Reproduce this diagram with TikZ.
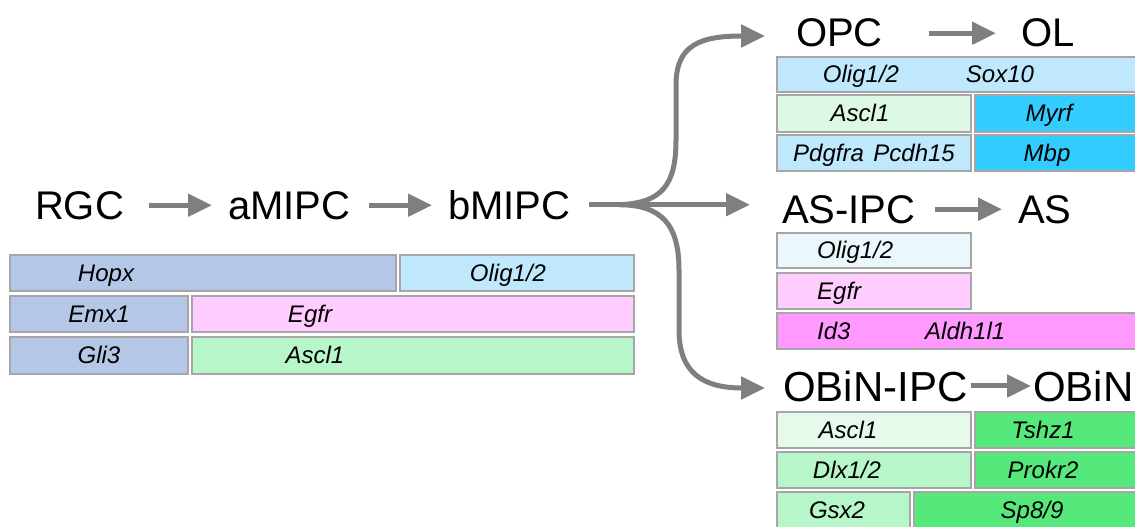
\documentclass[tikz,border=0pt]{standalone}
\usepackage{fontspec}
\setmainfont{Liberation Sans}
\usetikzlibrary{arrows.meta}

\definecolor{boxgray}{HTML}{A6A6A6}
\definecolor{arrowgray}{HTML}{7F7F7F}
\definecolor{rgcblue}{HTML}{B4C7E7}
\definecolor{oligcyan}{HTML}{BFE8FC}
\definecolor{egfrpink}{HTML}{FFCCFF}
\definecolor{asclgreen}{HTML}{B6F6C9}
\definecolor{palegreen}{HTML}{DDF8E4}
\definecolor{olcyan}{HTML}{33CCFF}
\definecolor{palecyan}{HTML}{EBF7FC}
\definecolor{asmagenta}{HTML}{FF99FF}
\definecolor{faintgreen}{HTML}{E6FAEB}
\definecolor{obingreen}{HTML}{55E87A}

% box: name, x1, y1, x2, y2, fill
\newcommand\genebox[6]{%
  \node[gbox, fill=#6, minimum width={(#4)-(#2)}, minimum height={(#5)-(#3)}] (#1) at (#2,#3) {};}

\begin{document}
\begin{tikzpicture}[x=1pt,y=-1pt,
  stage/.style={inner sep=0pt, outer sep=0pt, anchor=base west, font=\fontsize{40}{48}\selectfont},
  gene/.style={inner sep=0pt, anchor=base, font=\fontsize{24}{29}\selectfont\itshape},
  geneL/.style={gene, anchor=base west},
  gbox/.style={draw=boxgray, line width=2.5pt, inner sep=0pt, outer sep=0pt, anchor=north west},
  flow/.style={draw=arrowgray, line width=5pt, -{Triangle[length=24pt,width=22pt]}},
  fan/.style={draw=arrowgray, line width=5pt},
]
\useasboundingbox (0,0) rectangle (1135,527);

% ---- lineage labels ----
\node[stage] (rgc)   at (35,219)   {RGC};
\node[stage] (amipc) at (228,219)  {aMIPC};
\node[stage] (bmipc) at (448,219)  {bMIPC};
\node[stage] (opc)   at (796,47)   {OPC};
\node[stage] (ol)    at (1021,47)  {OL};
\node[stage] (asipc) at (782,223)  {AS-IPC};
\node[stage] (as)    at (1018,223) {AS};
\node[stage, font=\fontsize{42}{50}\selectfont] (obipc) at (783,401) {OBiN-IPC};
\node[stage, font=\fontsize{42}{50}\selectfont] (obin)  at (1033,401) {OBiN};

% ---- straight transitions (kept level with the source label) ----
\draw[flow, shorten <=25pt, shorten >=16pt] (rgc.east) -- (rgc.east -| amipc.west);
\draw[flow, shorten <=19pt, shorten >=16pt] (amipc.east) -- (amipc.east -| bmipc.west);
\draw[flow, shorten <=46pt, shorten >=25pt] (opc.east) -- (opc.east -| ol.west);
\draw[flow, shorten <=20pt, shorten >=16pt] (asipc.east) -- (asipc.east -| as.west);
\draw[flow, shorten <=4pt, shorten >=2pt] (obipc.east) -- (obipc.east -| obin.west);

% ---- branching from bMIPC ----
\coordinate (fork) at ([xshift=49pt]bmipc.east);
\coordinate (toOPC) at (765,36);
\coordinate (toAS) at (750,0 |- fork);
\coordinate (toOB) at (765,388);
\draw[fan, shorten <=19pt] (bmipc.east) -- (fork);
\draw[flow] (fork) .. controls (662,203) and (676,185) .. (676,140)
  -- (676,85) .. controls (676,45) and (700,36) .. (toOPC);
\draw[flow] (fork) -- (toAS);
\draw[flow] (fork) .. controls (662,205) and (679,225) .. (679,270)
  -- (679,330) .. controls (679,372) and (702,388) .. (toOB);

% ---- marker bars under RGC / aMIPC / bMIPC ----
\genebox{hopx}{10}{255}{396}{291}{rgcblue}
\genebox{oligA}{400}{255}{634}{291}{oligcyan}
\genebox{emx}{10}{296}{188}{332}{rgcblue}
\genebox{egfrA}{192}{296}{634}{332}{egfrpink}
\genebox{gli}{10}{337}{188}{374}{rgcblue}
\genebox{asclA}{192}{337}{634}{374}{asclgreen}
\node[gene] (tHopx)  at (106,281) {Hopx};
\node[gene] (tOligA) at (508,281) {Olig1/2};
\node[gene] (tEmx)   at (99,322)  {Emx1};
\node[gene] (tEgfrA) at (310,322) {Egfr};
\node[gene] (tGli)   at (99,363)  {Gli3};
\node[gene] (tAsclA) at (315,363) {Ascl1};

% ---- OPC / OL markers ----
\genebox{oligB}{777}{57}{1145}{92}{oligcyan}
\genebox{asclB}{777}{95}{971}{132}{palegreen}
\genebox{myrf}{975}{95}{1145}{132}{olcyan}
\genebox{pdg}{777}{135}{971}{171}{oligcyan}
\genebox{mbp}{975}{135}{1145}{171}{olcyan}
\node[gene] (tOligB) at (861,82)   {Olig1/2};
\node[gene] (tSox)   at (1000,82)  {Sox10};
\node[gene] (tAsclB) at (860,121)  {Ascl1};
\node[gene] (tMyrf)  at (1049,121) {Myrf};
\node[gene] (tPdg)   at (874,161)  {Pdgfra\hspace{0.4em}Pcdh15};
\node[gene] (tMbp)   at (1047,161) {Mbp};

% ---- AS-IPC / AS markers ----
\genebox{oligC}{777}{233}{971}{268}{palecyan}
\genebox{egfrC}{777}{273}{971}{309}{egfrpink}
\genebox{idbar}{777}{313}{1145}{349}{asmagenta}
\node[geneL] (tOligC) at (817,258) {Olig1/2};
\node[geneL] (tEgfrC) at (817,299) {Egfr};
\node[geneL] (tId)    at (817,339) {Id3};
\node[geneL] (tAldh)  at (925,339) {Aldh1l1};

% ---- OBiN-IPC / OBiN markers ----
\genebox{asclD}{777}{412}{971}{448}{faintgreen}
\genebox{tshz}{975}{412}{1145}{448}{obingreen}
\genebox{dlx}{777}{452}{971}{488}{asclgreen}
\genebox{prokr}{975}{452}{1145}{488}{obingreen}
\genebox{gsx}{777}{492}{910}{528}{asclgreen}
\genebox{sp}{914}{492}{1145}{528}{obingreen}
\node[gene] (tAsclD) at (848,438)  {Ascl1};
\node[gene] (tTshz)  at (1043,438) {Tshz1};
\node[gene] (tDlx)   at (847,478)  {Dlx1/2};
\node[gene] (tProkr) at (1043,478) {Prokr2};
\node[gene] (tGsx)   at (837,518)  {Gsx2};
\node[gene] (tSp)    at (1032,518) {Sp8/9};
\end{tikzpicture}
\end{document}
